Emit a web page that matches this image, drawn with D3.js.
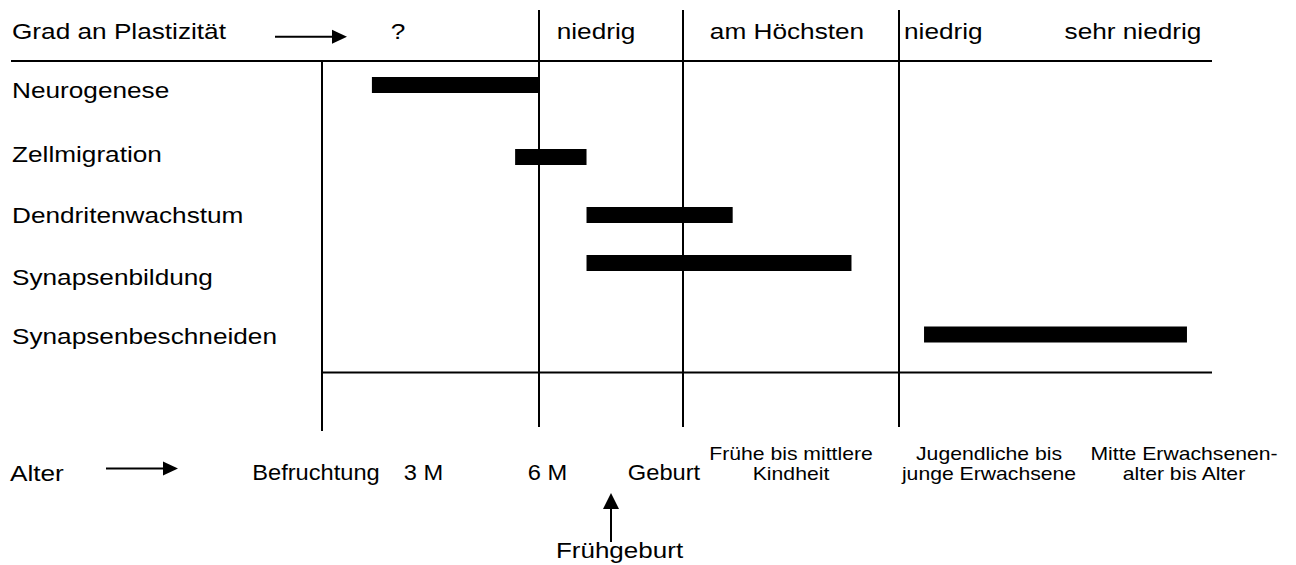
<!DOCTYPE html>
<html>
<head>
<meta charset="utf-8">
<script src="https://cdn.jsdelivr.net/npm/d3@7"></script>
<style>
  body { margin: 0; background: #fff; }
  svg { display: block; }
  text { font-family: "Liberation Sans", Arial, sans-serif; fill: #000; }
</style>
</head>
<body>
<div id="canvas"></div>
<script>
// ----------------------------------------------------------
// DATA -----------------------------------------------------
// ----------------------------------------------------------
// processes (rows), start / end in stage units
// stage 0 = Befruchtung, 1 = 6 M, 2 = Geburt, 3 = Jugend, 4 = Alter
var processes = ["Neurogenese", "Zellmigration", "Dendritenwachstum", "Synapsenbildung", "Synapsenbeschneiden"];
var startStage = [0.23, 0.89, 1.33, 1.33, 3.08];
var endStage = [1.0, 1.33, 2.23, 2.78, 3.92];

// stage borders (vertical lines)
var stageBorders = [0, 1, 2, 3];

// plasticity labels (top)
var plasticityLabels = ["?", "niedrig", "am Höchsten", "niedrig", "sehr niedrig"];

// age labels (bottom)
var ageLabels = ["Befruchtung", "3 M", "6 M", "Geburt"];
var ageLabelsWrapped = [["Frühe bis mittlere", "Kindheit"], ["Jugendliche bis", "junge Erwachsene"], ["Mitte Erwachsenen-", "alter bis Alter"]];

// ----------------------------------------------------------
// LAYOUT ---------------------------------------------------
// ----------------------------------------------------------
var layout = {
  width: 1296,
  height: 565,
  stage_domain: [0, 1, 2, 3, 4],
  stage_range: [322, 539, 683, 899, 1212],
  row_center: [85, 157, 215, 263, 334.5],
  row_label_y: [98.3, 161.7, 222.7, 285, 344],
  bar_height: 16,
  top_line_y: 61,
  bottom_line_y: 372.5,
  line_left: 11,
  plast_x: [398, 596, 787, 904, 1133],
  plast_anchor: ["middle", "middle", "middle", "start", "middle"],
  age_x: [316, 423.5, 547.5, 664],
  age_wrap_x: [791, 989, 1184],
  stroke: 2
};

// ----------------------------------------------------------
// STRUCTURE ------------------------------------------------
// ----------------------------------------------------------
var svg = d3.select("#canvas").append("svg")
  .attr("width", layout.width)
  .attr("height", layout.height)
  .style("background-color", "#fff");

var line_group = svg.append("g").attr("class", "line_group");
var bar_group = svg.append("g").attr("class", "bar_group");
var text_group = svg.append("g").attr("class", "text_group");

// scales
var xScale = d3.scaleLinear()
  .domain(layout.stage_domain)
  .range(layout.stage_range);

var yScale = d3.scaleOrdinal()
  .domain(processes)
  .range(layout.row_center);

var yLabel = d3.scaleOrdinal()
  .domain(processes)
  .range(layout.row_label_y);

// helper for text (glyphs are a bit wider in the reference)
function addText(g, txt, x, y, anchor, size, sx) {
  return g.append("text")
    .attr("transform", "translate(" + x + "," + y + ") scale(" + sx + ",1)")
    .attr("text-anchor", anchor)
    .style("font-size", size + "px")
    .text(txt);
}

// ----------------------------------------------------------
// LINES ----------------------------------------------------
// ----------------------------------------------------------
// horizontal lines
line_group.append("line")
  .attr("x1", layout.line_left).attr("x2", xScale(4))
  .attr("y1", layout.top_line_y).attr("y2", layout.top_line_y)
  .attr("stroke", "#000").attr("stroke-width", layout.stroke);
line_group.append("line")
  .attr("x1", xScale(0)).attr("x2", xScale(4))
  .attr("y1", layout.bottom_line_y).attr("y2", layout.bottom_line_y)
  .attr("stroke", "#000").attr("stroke-width", layout.stroke);

// vertical lines
line_group.selectAll(".vline")
  .data(stageBorders)
  .enter()
  .append("line")
  .attr("class", "vline")
  .attr("x1", function(d) { return xScale(d); })
  .attr("x2", function(d) { return xScale(d); })
  .attr("y1", function(d) { return d === 0 ? layout.top_line_y : 10; })
  .attr("y2", function(d) { return d === 0 ? 431 : 427; })
  .attr("stroke", "#000").attr("stroke-width", layout.stroke);

// ----------------------------------------------------------
// BARS -----------------------------------------------------
// ----------------------------------------------------------
bar_group.selectAll("rect")
  .data(processes)
  .enter()
  .append("rect")
  .attr("x", function(d, i) { return xScale(startStage[i]); })
  .attr("width", function(d, i) { return xScale(endStage[i]) - xScale(startStage[i]); })
  .attr("y", function(d) { return yScale(d) - layout.bar_height / 2; })
  .attr("height", layout.bar_height)
  .style("fill", "#000");

// ----------------------------------------------------------
// ARROWS ---------------------------------------------------
// ----------------------------------------------------------
function arrowRight(x1, x2, y) {
  line_group.append("line")
    .attr("x1", x1).attr("x2", x2 - 14)
    .attr("y1", y).attr("y2", y)
    .attr("stroke", "#000").attr("stroke-width", layout.stroke);
  line_group.append("polygon")
    .attr("points", (x2 - 15) + "," + (y - 7) + " " + x2 + "," + y + " " + (x2 - 15) + "," + (y + 7))
    .style("fill", "#000");
}
arrowRight(275, 347, 36.7);
arrowRight(106, 178, 468.5);

// Frühgeburt arrow (up)
line_group.append("line")
  .attr("x1", 611).attr("x2", 611)
  .attr("y1", 542).attr("y2", 508)
  .attr("stroke", "#000").attr("stroke-width", layout.stroke);
line_group.append("polygon")
  .attr("points", "603,509 611,493 619,509")
  .style("fill", "#000");

// ----------------------------------------------------------
// TEXT -----------------------------------------------------
// ----------------------------------------------------------
addText(text_group, "Grad an Plastizität", 12, 39, "start", 22.4, 1.17);

plasticityLabels.forEach(function(d, i) {
  addText(text_group, d, layout.plast_x[i], 39, layout.plast_anchor[i], 22.4, 1.17);
});

processes.forEach(function(d) {
  addText(text_group, d, 12, yLabel(d), "start", 22.4, 1.17);
});

addText(text_group, "Alter", 10, 480.5, "start", 22.4, 1.17);

ageLabels.forEach(function(d, i) {
  addText(text_group, d, layout.age_x[i], 480, "middle", 21.5, 1.1);
});

ageLabelsWrapped.forEach(function(d, i) {
  addText(text_group, d[0], layout.age_wrap_x[i], 460, "middle", 19, 1.115);
  addText(text_group, d[1], layout.age_wrap_x[i], 479.5, "middle", 19, 1.115);
});

addText(text_group, "Frühgeburt", 619.5, 558.3, "middle", 21.5, 1.21);
</script>
</body>
</html>
